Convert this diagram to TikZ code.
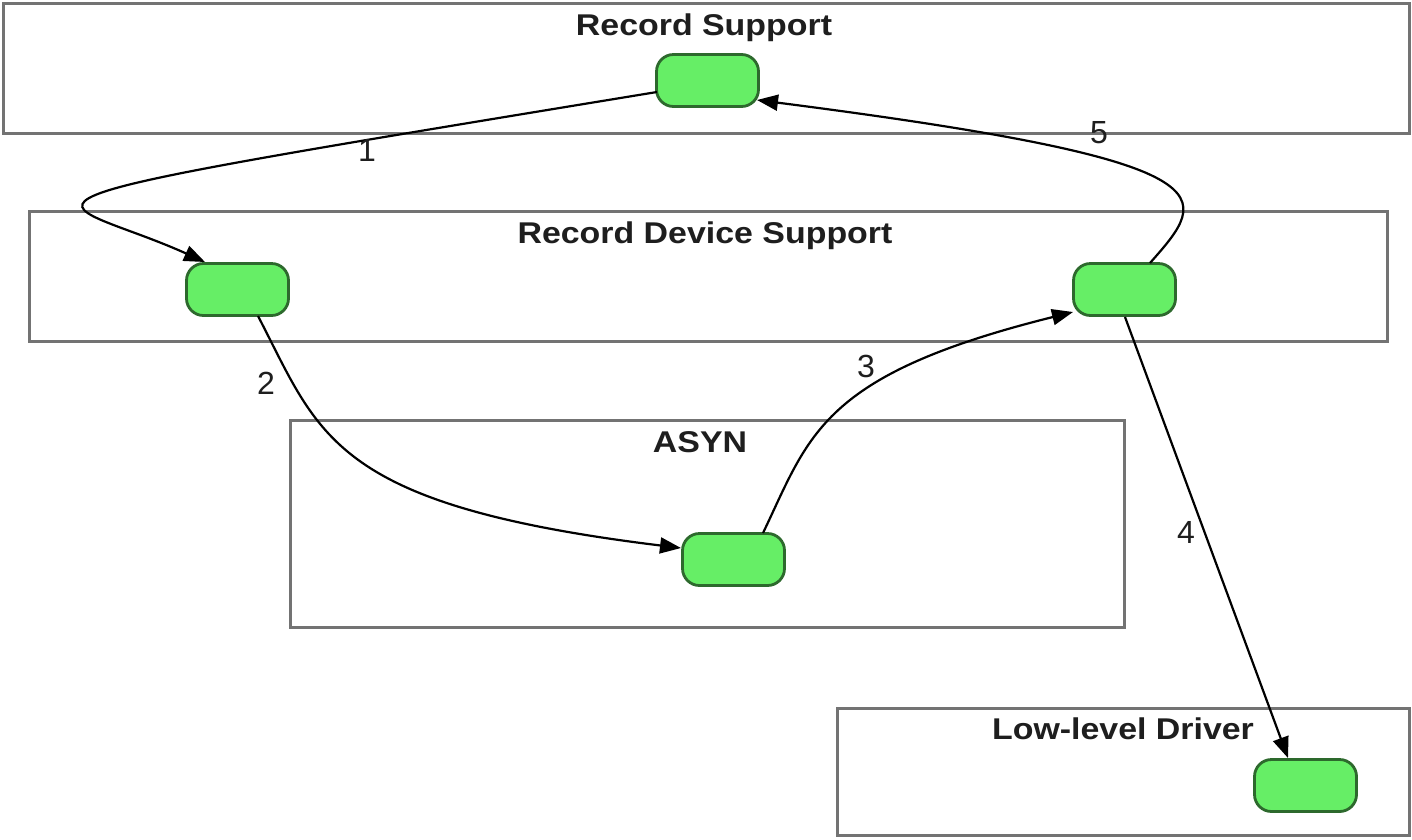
\documentclass[tikz,border=0pt]{standalone}
\usepackage{fontspec}
\setmainfont{Liberation Sans}
\usetikzlibrary{arrows.meta,calc}
\definecolor{boxgray}{RGB}{115,115,115}
\definecolor{portfill}{RGB}{102,238,102}
\definecolor{portborder}{RGB}{45,105,45}
\definecolor{inkblack}{RGB}{30,30,30}
\newcommand{\wide}[1]{\scalebox{1.13}[1]{#1}}
\begin{document}
\begin{tikzpicture}[x=1pt,y=-1pt,
  layerbox/.style={draw=boxgray, line width=3pt, inner sep=0, outer sep=0},
  titletext/.style={anchor=base, inner sep=0, text=inkblack, font=\fontsize{30}{34}\selectfont\bfseries},
  port/.style={draw=portborder, fill=portfill, line width=2.8pt, rounded corners=17pt,
    minimum width=102pt, minimum height=52pt, inner sep=0},
  flow/.style={draw=black, line width=2.2pt, -{Triangle[length=21pt,width=16pt]}},
  numlabel/.style={inner sep=0, text=inkblack, font=\fontsize{32}{36}\selectfont}]
\useasboundingbox (0,0) rectangle (1412,839);
\fill[white] (0,0) rectangle (1412,839);

% layers
\node[layerbox, minimum width=1406pt, minimum height=130pt] (rs) at (706,68) {};
\node[layerbox, minimum width=1358pt, minimum height=130pt] (rds) at (708,276) {};
\node[layerbox, minimum width=834pt, minimum height=207pt] (asyn) at (707,523.5) {};
\node[layerbox, minimum width=572pt, minimum height=127pt] (lld) at (1123,771.5) {};

% titles
\node[titletext] (trs) at (704,35) {\wide{Record Support}};
\node[titletext] (trds) at (705,243) {\wide{Record Device Support}};
\node[titletext] (tasyn) at (700,452) {\wide{ASYN}};
\node[titletext] (tlld) at (1123,739) {\wide{Low-level Driver}};

% ports
\node[port] (p0) at (707.5,80.5) {};
\node[port] (p1) at (237.5,289.5) {};
\node[port] (p2) at (1124.5,289.5) {};
\node[port] (p3) at (733.5,559.5) {};
\node[port] (p4) at (1305.5,785.5) {};

% flows
\draw[flow] ($(p0)+(-50.5,11.5)$) .. controls (-75,212) and (50,192) .. ($(p1)+(-32.5,-27.5)$);
\draw[flow] ($(p1)+(20.5,26.5)$) .. controls (320,435) and (330,505) .. ($(p3)+(-52.5,-11.5)$);
\draw[flow] ($(p3)+(29.5,-26.5)$) .. controls (810,435) and (820,375) .. ($(p2)+(-51.5,22.5)$);
\draw[flow] ($(p2)+(0.5,27.5)$) -- ($(p4)+(-17.5,-27.5)$);
\draw[flow] ($(p2)+(25.5,-26.5)$) .. controls (1210,195) and (1240,162) .. ($(p0)+(49.5,19.5)$);

% numbers
\node[numlabel] (n1) at (367,150) {1};
\node[numlabel] (n2) at (266,383) {2};
\node[numlabel] (n3) at (866,366) {3};
\node[numlabel] (n4) at (1186,532) {4};
\node[numlabel] (n5) at (1099,133) {5};
\end{tikzpicture}
\end{document}
